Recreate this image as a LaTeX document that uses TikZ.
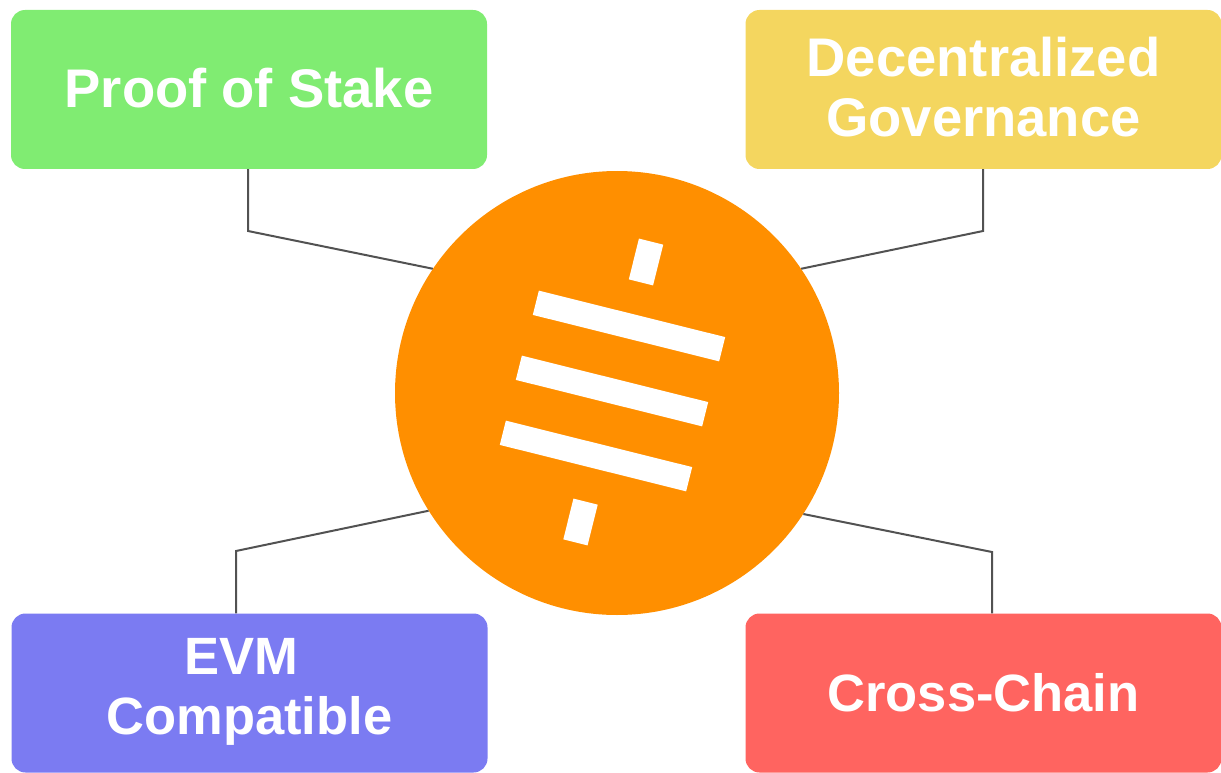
\documentclass[tikz,border=0pt]{standalone}
\usepackage{fontspec}
\setmainfont{Liberation Sans}
\usepackage{tikz}
\usetikzlibrary{positioning}
\definecolor{stakeGreen}{HTML}{80EC72}
\definecolor{govYellow}{HTML}{F4D65F}
\definecolor{evmBlue}{HTML}{7B7BF2}
\definecolor{chainRed}{HTML}{FF6460}
\definecolor{tokenOrange}{HTML}{FF8F00}
\tikzstyle{tile} = [rectangle, rounded corners=14pt, minimum width=476pt, minimum height=159pt, inner sep=0pt, align=center, text=white, font=\fontsize{54.4}{60}\selectfont\bfseries]
\tikzstyle{small tile} = [tile, font=\fontsize{52.5}{60}\selectfont\bfseries]
\tikzstyle{link} = [line width=2pt, draw=black!68]
\tikzstyle{bar} = [rectangle, fill=white, minimum width=192pt, minimum height=25pt, inner sep=0pt, rotate=-14]
\tikzstyle{dash bar} = [rectangle, fill=white, minimum width=25pt, minimum height=42pt, inner sep=0pt, rotate=-14]

\begin{document}
\begin{tikzpicture}[x=1pt, y=-1pt]
\useasboundingbox (0,0) rectangle (1221,773);
% Define nodes
\node (stake) [tile, fill=stakeGreen, text depth=4pt] at (249,89.5) {Proof of Stake};
\node (governance) [tile, fill=govYellow, text depth=6pt] at (983.5,89.5) {Decentralized\\Governance};
\node (evm) [small tile, fill=evmBlue, text depth=14pt] at (249.5,693) {EVM\hspace*{17pt}\\Compatible};
\node (crossChain) [small tile, fill=chainRed] at (983.5,693) {Cross-Chain};
\node (token) [circle, fill=tokenOrange, minimum size=444pt, inner sep=0pt] at (617,393) {};
% Logo bars
\node (dashTop) [dash bar] at (646,262) {};
\node (barOne) [bar] at (629,326) {};
\node (barTwo) [bar] at (612,391) {};
\node (barThree) [bar] at (596,456) {};
\node (dashBottom) [dash bar] at (580.5,522) {};
% Bends of the connectors
\coordinate (stakeBend) at (248,231);
\coordinate (governanceBend) at (983,231);
\coordinate (evmBend) at (236,551);
\coordinate (crossChainBend) at (992,552);
% Connect nodes with lines
\draw [link] (stake.south -| stakeBend) -- (stakeBend) -- (token.146);
\draw [link] (governance.south -| governanceBend) -- (governanceBend) -- (token.34);
\draw [link] (evm.north -| evmBend) -- (evmBend) -- (token.212);
\draw [link] (crossChain.north -| crossChainBend) -- (crossChainBend) -- (token.-33);
\end{tikzpicture}
\end{document}
